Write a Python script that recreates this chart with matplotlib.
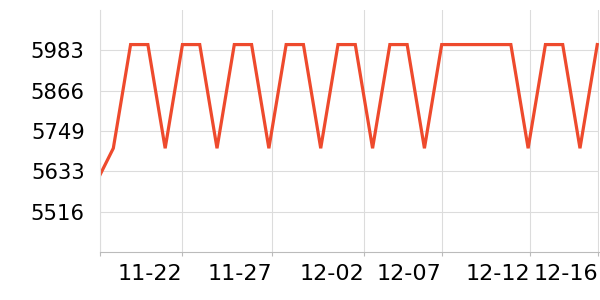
import numpy as np
import matplotlib

matplotlib.use("Agg")
import matplotlib.pyplot as plt

# daily values, 11-17 .. 12-16
values = [5600, 5700, 6000, 6000, 5700, 6000, 6000, 5700, 6000, 6000,
          5700, 6000, 6000, 5700, 6000, 6000, 5700, 6000, 6000, 5700,
          6000, 6000, 6000, 6000, 6000, 5700, 6000, 6000, 5700, 6000]
days = np.arange(len(values))

x_tick_pos = [5.0, 10.2, 15.5, 20.0, 25.1, 29.05]
x_tick_labels = ["11-22", "11-27", "12-02", "12-07", "12-12", "12-16"]
y_ticks = [5516.67, 5633.33, 5750.0, 5866.67, 5983.33]
y_tick_labels = ["5516", "5633", "5749", "5866", "5983"]

LINE = "#ee4a2d"
GRID = "#dcdcdc"

fig = plt.figure(figsize=(6, 3), dpi=100)
ax = fig.add_axes([100 / 600, 48 / 300, 499 / 600, 242 / 300])

ax.plot(days, values, color=LINE, linewidth=2.3, solid_joinstyle="miter")

ax.set_xlim(0.23, 29.1)
ax.set_ylim(5400, 6100)

ax.set_yticks(y_ticks)
ax.set_yticklabels(y_tick_labels, fontsize=15.2)
ax.tick_params(axis="y", length=0, pad=11)

ax.set_xticks([0.23] + x_tick_pos)
ax.set_xticklabels([""] + x_tick_labels, fontsize=16, ha="right")
ax.tick_params(axis="x", length=3, width=0.8, color="#bbbbbb", pad=6)

ax.grid(True, color=GRID, linewidth=0.8)
ax.set_axisbelow(True)

for side in ("top", "right"):
    ax.spines[side].set_visible(False)
ax.spines["left"].set_color(GRID)
ax.spines["left"].set_linewidth(0.8)
ax.spines["bottom"].set_color("#bbbbbb")
ax.spines["bottom"].set_linewidth(0.8)

fig.savefig("out.png", dpi=100)
